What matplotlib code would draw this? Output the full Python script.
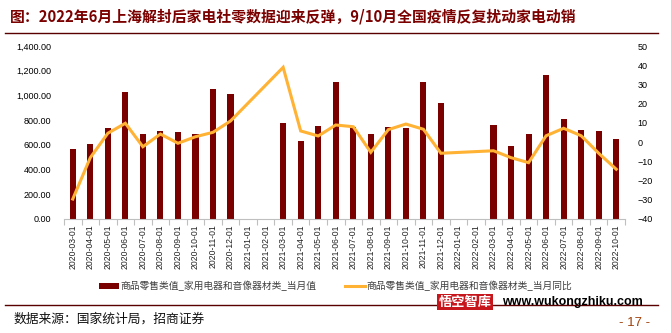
import numpy as np
import pandas as pd
import matplotlib
matplotlib.use("Agg")
import matplotlib.pyplot as plt
from matplotlib.lines import Line2D
from matplotlib.patches import Patch
from matplotlib.ticker import FuncFormatter, MultipleLocator

plt.rcParams['font.family'] = ['Noto Sans CJK SC', 'DejaVu Sans']

# monthly retail sales of household appliances & AV equipment
months = [d.strftime("%Y-%m-%d") for d in pd.date_range("2020-03-01", "2022-10-01", freq="MS")]
sales = [570, 610, 738, 1031, 684, 716, 708, 684, 1050, 1015,
         None, None, 779, 635, 749, 1110, 741, 684, 741, 735, 1107, 936,
         None, None, 757, 594, 684, 1162, 811, 724, 714, 649]
yoy = [-29.6, -8.1, 4.6, 9.8, -2.4, 4.2, -0.6, 2.8, 5.1, 11.0,
       None, None, 38.9, 5.8, 3.2, 8.9, 8.0, -5.3, 6.5, 9.4, 6.7, -5.8,
       None, None, -4.5, -8.1, -10.7, 3.3, 7.2, 3.3, -5.8, -14.1]

title = "图：2022年6月上海解封后家电社零数据迎来反弹，9/10月全国疫情反复扰动家电动销"
bar_label = "商品零售类值_家用电器和音像器材类_当月值"
line_label = "商品零售类值_家用电器和音像器材类_当月同比"
source = "数据来源：国家统计局，招商证券"

bar_color = "#7A0000"
line_color = "#FFB234"
dark_red = "#7B0000"

x = np.arange(len(months))
sales_arr = np.array([np.nan if v is None else v for v in sales], dtype=float)
yoy_arr = np.array([np.nan if v is None else v for v in yoy], dtype=float)

fig = plt.figure(figsize=(6.71, 3.33), dpi=100)
ax = fig.add_axes([64 / 671, 1 - 219 / 333, (625 - 64) / 671, (219 - 46) / 333])
ax2 = ax.twinx()

ax.bar(x, np.nan_to_num(sales_arr), width=0.35, color=bar_color, zorder=2)
ok = ~np.isnan(yoy_arr)
ax2.plot(x[ok], yoy_arr[ok], color=line_color, lw=2.2, solid_joinstyle="miter")

ax.set_xlim(-0.5, len(months) - 0.5)
ax.set_ylim(0, 1400)
ax.yaxis.set_major_locator(MultipleLocator(200))
ax.yaxis.set_major_formatter(FuncFormatter(lambda v, p: f"{v:,.2f}"))
ax2.set_ylim(-40, 50)
ax2.yaxis.set_major_locator(MultipleLocator(10))

for a in (ax, ax2):
    for s in a.spines.values():
        s.set_visible(False)
ax.spines["bottom"].set_visible(True)
ax.spines["bottom"].set_color("#BFBFBF")
ax.spines["bottom"].set_linewidth(0.8)

# tick marks between categories, labels at the centres
ax.set_xticks(np.arange(-0.5, len(months) + 0.5, 1))
ax.set_xticklabels([])
ax.tick_params(axis="x", which="major", length=4, color="#BFBFBF", width=0.8)
ax.set_xticks(x, minor=True)
ax.set_xticklabels(months, minor=True, rotation=90, fontsize=6.2,
                   family="Liberation Sans", color="#222222")
ax.tick_params(axis="x", which="minor", length=0, pad=4)

ax.tick_params(axis="y", length=0, pad=9, labelsize=6.5)
ax2.tick_params(axis="y", length=0, pad=9, labelsize=6.5)
for lab in ax.get_yticklabels() + ax2.get_yticklabels():
    lab.set_family("Liberation Sans")

handles = [Patch(facecolor=bar_color, edgecolor="none"),
           Line2D([0], [0], color=line_color, lw=2.2)]
fig.legend(handles, [bar_label, line_label], loc="center", ncol=2,
           bbox_to_anchor=(0.5, 1 - 286 / 333), frameon=False,
           fontsize=7, handlelength=2.0, handleheight=0.6, handletextpad=0.15,
           columnspacing=3.0, labelcolor="#404040")

# header and footer
fig.text(10 / 671, 1 - 16 / 333, title, fontsize=10.7, fontweight="bold",
         color=dark_red, va="center", ha="left")
fig.add_artist(Line2D([5 / 671, 658 / 671], [1 - 33 / 333] * 2, color="#5A0000", lw=1.0))
fig.add_artist(Line2D([5 / 671, 658 / 671], [1 - 305 / 333] * 2, color="#5A0000", lw=1.0))
fig.text(14 / 671, 1 - 319 / 333, source, fontsize=9.2, color="#111111",
         va="center", ha="left")
fig.text(465 / 671, 1 - 302 / 333, "悟空智库", fontsize=9.5, fontweight="bold",
         color="white", va="center", ha="center",
         bbox=dict(boxstyle="square,pad=0.1", facecolor="#C8161D", edgecolor="none"))
fig.text(502 / 671, 1 - 302 / 333, "www.wukongzhiku.com", fontsize=9,
         fontweight="bold", family="Liberation Sans", color="black",
         va="center", ha="left")
fig.text(635 / 671, 1 - 323 / 333, "- 17 -", fontsize=9.5, color="#A0400A",
         family="Liberation Sans", va="center", ha="center")

fig.savefig("out.png", dpi=100)
